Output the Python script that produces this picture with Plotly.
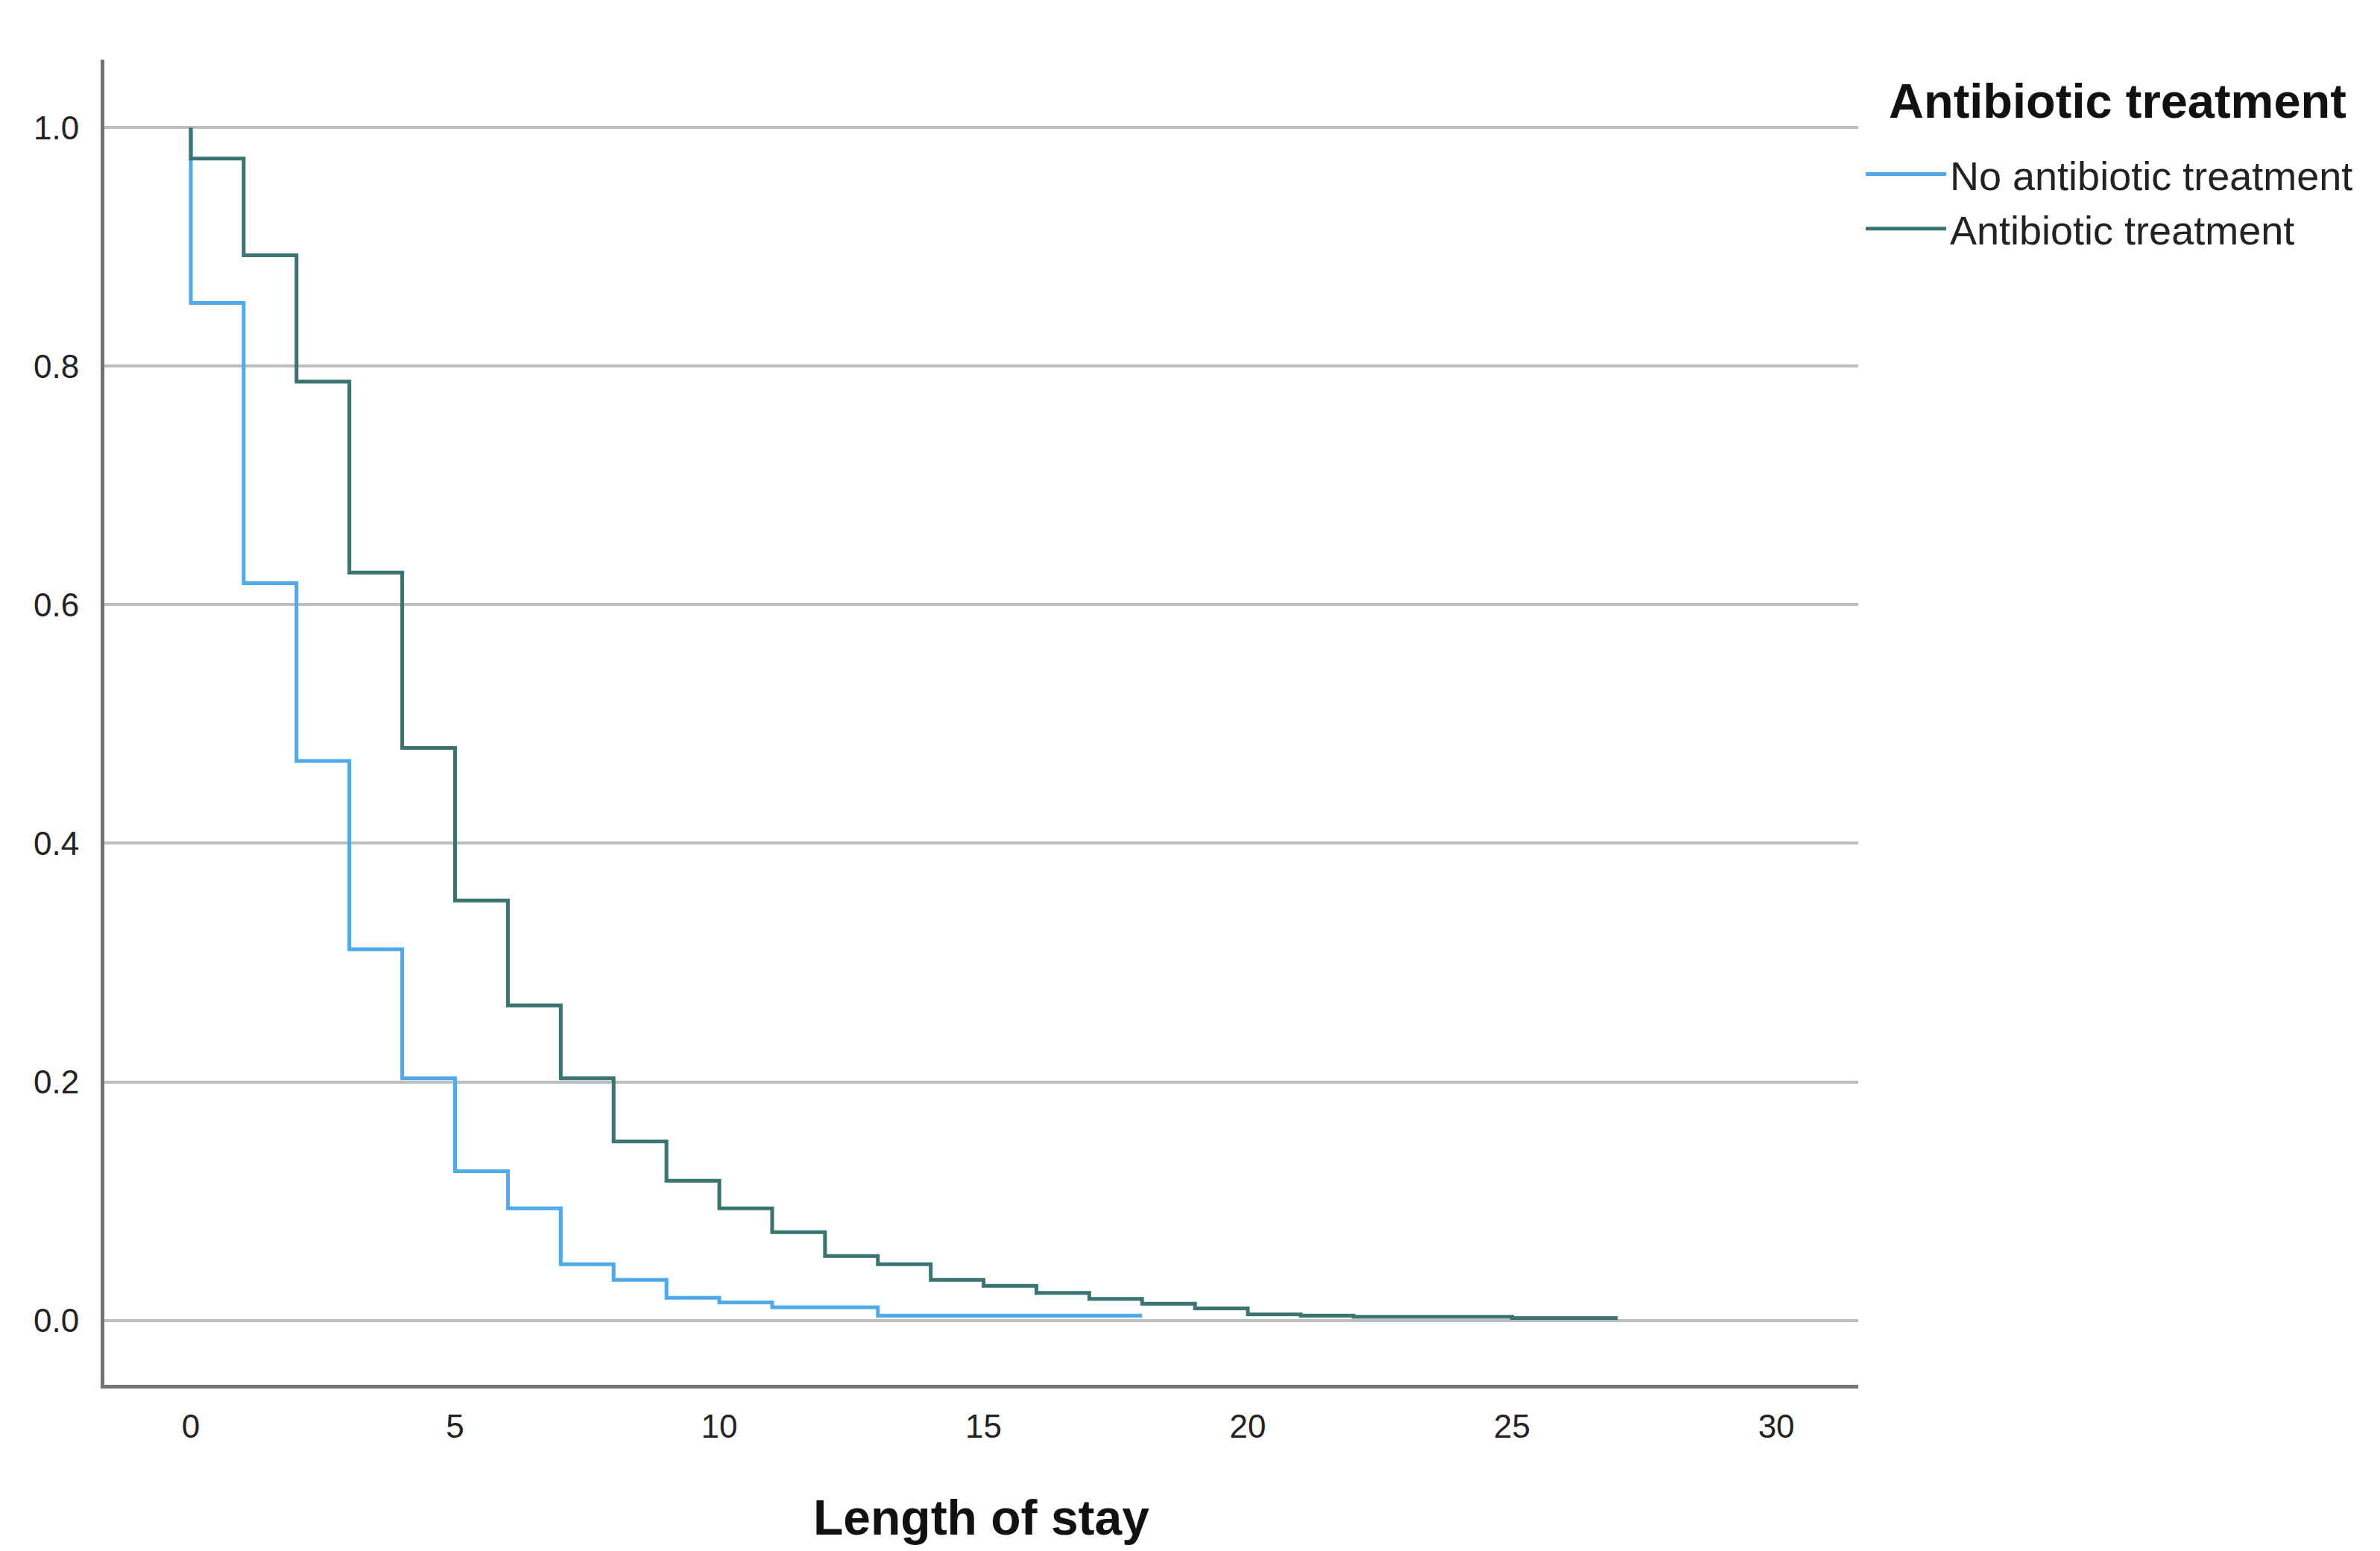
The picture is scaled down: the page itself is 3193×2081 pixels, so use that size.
import plotly.graph_objects as go

# Length of stay (days) at which each step begins
days_no = [0, 0, 1, 2, 3, 4, 5, 6, 7, 8, 9, 10, 11, 13, 18]
surv_no = [1.0, 0.853, 0.618, 0.469, 0.311, 0.203, 0.125, 0.094, 0.047, 0.034, 0.019, 0.015, 0.011, 0.004, 0.004]

days_ab = [0, 0, 1, 2, 3, 4, 5, 6, 7, 8, 9, 10, 11, 12, 13, 14, 15, 16, 17, 18, 19, 20, 21, 22, 25, 27]
surv_ab = [1.0, 0.974, 0.893, 0.787, 0.627, 0.480, 0.352, 0.264, 0.203, 0.150, 0.117, 0.094, 0.074,
           0.054, 0.047, 0.034, 0.029, 0.023, 0.018, 0.014, 0.010, 0.005, 0.004, 0.003, 0.002, 0.002]

series_names = ["No antibiotic treatment", "Antibiotic treatment"]
series_colors = ["#4FAAEC", "#3B7473"]
legend_title = "Antibiotic treatment"
x_title = "Length of stay"

x_ticks = [0, 5, 10, 15, 20, 25, 30]
y_ticks = [0.0, 0.2, 0.4, 0.6, 0.8, 1.0]

FONT = "Liberation Sans, Arial, sans-serif"

fig = go.Figure()
for xs, ys, name, col in [(days_no, surv_no, series_names[0], series_colors[0]),
                          (days_ab, surv_ab, series_names[1], series_colors[1])]:
    fig.add_trace(go.Scatter(x=xs, y=ys, mode="lines", name=name,
                             line=dict(color=col, width=5, shape="hv")))

W, H = 3193, 2081
L, R, T, B = 132, 708, 72, 231
pw = W - L - R
ph = H - T - B

fig.update_layout(
    width=W, height=H,
    paper_bgcolor="white", plot_bgcolor="white",
    margin=dict(l=L, r=R, t=T, b=B),
    font=dict(family=FONT, color="#222222"),
    showlegend=True,
    legend=dict(
        x=(2490 - L) / pw, y=1 - (184 - T) / ph, xanchor="left", yanchor="top",
        font=dict(size=54, color="#222222"),
        itemwidth=108, tracegroupgap=0, bgcolor="rgba(0,0,0,0)",
    ),
    annotations=[dict(
        text="<b>" + legend_title + "</b>", xref="paper", yref="paper",
        x=(2524 - L) / pw, y=1 - (128 - T) / ph, xanchor="left", yanchor="middle",
        showarrow=False, font=dict(size=65, color="#111111"),
    )],
    xaxis=dict(
        range=[-1.636, 31.55], tickvals=x_ticks, ticktext=[str(v) for v in x_ticks],
        showgrid=False, zeroline=False, showline=True, linecolor="#747474", linewidth=5,
        ticks="", tickfont=dict(size=44, color="#222222"), ticklabelstandoff=13,
        title=dict(text="<b>" + x_title + "</b>", font=dict(size=66, color="#111111"), standoff=78),
    ),
    yaxis=dict(
        range=[-0.054, 1.057], tickvals=y_ticks, ticktext=[f"{v:.1f}" for v in y_ticks],
        showgrid=True, gridcolor="#BDBDBD", gridwidth=4, zeroline=False,
        showline=True, linecolor="#747474", linewidth=5,
        ticks="", tickfont=dict(size=44, color="#222222"), ticklabelstandoff=20,
    ),
)

fig.write_html("out.html")
